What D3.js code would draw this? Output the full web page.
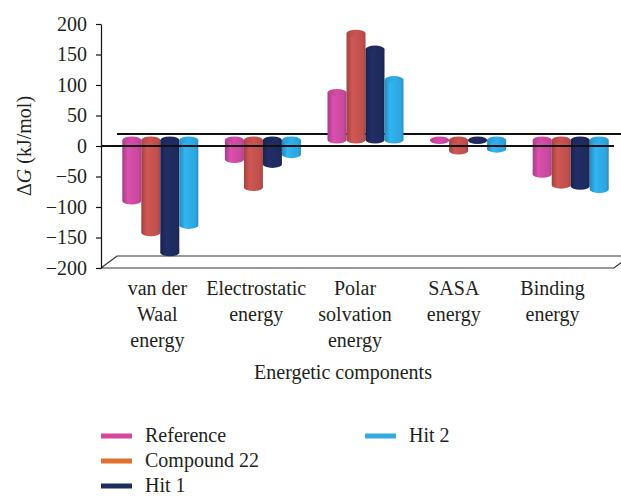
<!DOCTYPE html>
<html>
<head>
<meta charset="utf-8">
<script src="https://cdn.jsdelivr.net/npm/d3@7/dist/d3.min.js"></script>
<style>
  html, body { margin: 0; padding: 0; background: #fff; }
  svg { display: block; }
  text { font-family: "Liberation Serif", "DejaVu Serif", serif; fill: #231f20; }
</style>
</head>
<body>
<svg id="chart" width="621" height="496"></svg>
<script>
// Energy components (kJ/mol) per compound
const categories = [
  ["van der", "Waal", "energy"],
  ["Electrostatic", "energy"],
  ["Polar", "solvation", "energy"],
  ["SASA", "energy"],
  ["Binding", "energy"]
];
const series = ["Reference", "Compound 22", "Hit 1", "Hit 2"];
const refValues   = [-100, -32,  78,  -1, -56];
const c22Values   = [-152, -78, 175, -18, -74];
const hit1Values  = [-185, -40, 149,  -1, -76];
const hit2Values  = [-140, -24,  99, -15, -81];
const yTicks = [-200, -150, -100, -50, 0, 50, 100, 150, 200];

const seriesValues = [refValues, c22Values, hit1Values, hit2Values];
const barColors = ["#c9499f", "#c0504d", "#1f2a5e", "#2ea6df"];
const legendColors = ["#d4479c", "#e07030", "#1f2d5e", "#33a9e0"];

const svg = d3.select("#chart");
const defs = svg.append("defs");

// 3D depth of the plot box
const depthX = 16, depthY = -12;
const catKeys = categories.map(c => c.join(" "));

const y = d3.scaleLinear().domain([-200, 200]).range([268, 24]);
const x = d3.scaleBand().domain(catKeys).range([101, 614]);
const xLabel = d3.scaleBand().domain(catKeys).range([108, 602]);
const xSeries = d3.scaleBand().domain(series).range([0, x.bandwidth()])
  .paddingOuter(0.7).paddingInner(0);

// Floor of the 3D box
const floorY = y(-200);
const x0 = x.range()[0], x1 = x.range()[1];
svg.append("path")
  .attr("d", `M${x0},${floorY}L${x1},${floorY}L${x1 + depthX},${floorY + depthY}` +
             `M${x0},${floorY}L${x0 + depthX},${floorY + depthY}L${x1 + depthX},${floorY + depthY}`)
  .attr("fill", "none").attr("stroke", "#333").attr("stroke-width", 1.2);

// Back edge of the zero plane (behind the bars)
const zeroY = y(0);
svg.append("line")
  .attr("x1", x0 + depthX).attr("x2", x1 + depthX + 10)
  .attr("y1", zeroY + depthY).attr("y2", zeroY + depthY)
  .attr("stroke", "#111").attr("stroke-width", 2);

// Shading gradients for the cylinders
function shade(id, color, cap) {
  const c = d3.color(color);
  const g = defs.append("linearGradient").attr("id", id)
    .attr("x1", "0%").attr("x2", "100%").attr("y1", "0%").attr("y2", "0%");
  const stops = cap
    ? [[0, c.darker(0.25)], [0.5, c.brighter(0.15)], [1, c.darker(0.2)]]
    : [[0, c.darker(0.55)], [0.3, c.brighter(0.25)], [0.55, c.brighter(0.1)], [0.85, c], [1, c.darker(0.45)]];
  stops.forEach(([o, col]) => g.append("stop").attr("offset", o).attr("stop-color", col.formatHex()));
}
barColors.forEach((col, i) => { shade("body" + i, col, false); shade("cap" + i, col, true); });

// Cylinders
const ry = 3.5;
const bars = svg.append("g");
categories.forEach((cat, ci) => {
  series.forEach((s, si) => {
    const v = seriesValues[si][ci];
    const rx = xSeries.bandwidth() / 2;
    const cx = x(catKeys[ci]) + depthX / 2 + xSeries(s) + rx;
    const yBase = y(0) + depthY / 2;
    const yVal = y(v) + depthY / 2;
    const top = Math.min(yBase, yVal), bottom = Math.max(yBase, yVal);
    const g = bars.append("g");
    g.append("rect")
      .attr("x", cx - rx).attr("y", top).attr("width", rx * 2).attr("height", bottom - top)
      .attr("fill", `url(#body${si})`);
    g.append("ellipse")
      .attr("cx", cx).attr("cy", bottom).attr("rx", rx).attr("ry", ry)
      .attr("fill", `url(#body${si})`);
    g.append("ellipse")
      .attr("cx", cx).attr("cy", top).attr("rx", rx).attr("ry", ry)
      .attr("fill", `url(#cap${si})`);
  });
});

// Front edge of the zero plane (over the bars)
svg.append("line")
  .attr("x1", x0).attr("x2", x1)
  .attr("y1", zeroY).attr("y2", zeroY)
  .attr("stroke", "#111").attr("stroke-width", 2);

// Value axis
const yAxis = svg.append("g")
  .attr("transform", `translate(${x0},0)`)
  .call(d3.axisLeft(y).tickValues(yTicks).tickSize(5).tickSizeOuter(0).tickPadding(9));
yAxis.select(".domain").attr("stroke", "#111").attr("stroke-width", 1.2);
yAxis.selectAll(".tick line").attr("stroke", "#111").attr("stroke-width", 1.2);
yAxis.selectAll(".tick text")
  .attr("font-size", 20)
  .style("font-family", "'Liberation Serif', serif")
  .attr("fill", "#231f20");

// Value axis title
const yTitle = svg.append("text")
  .attr("transform", `translate(31,${y(0)}) rotate(-90)`)
  .attr("text-anchor", "middle")
  .attr("font-size", 20);
yTitle.append("tspan").text("Δ");
yTitle.append("tspan").attr("font-style", "italic").text("G");
yTitle.append("tspan").text(" (kJ/mol)");

// Category labels
categories.forEach((lines, ci) => {
  const t = svg.append("text")
    .attr("text-anchor", "middle")
    .attr("font-size", 20);
  lines.forEach((ln, li) => {
    t.append("tspan")
      .attr("x", xLabel(catKeys[ci]) + xLabel.bandwidth() / 2)
      .attr("y", 295 + li * 26)
      .text(ln);
  });
});

svg.append("text")
  .attr("x", 343).attr("y", 379)
  .attr("text-anchor", "middle")
  .attr("font-size", 20)
  .text("Energetic components");

// Legend
const legendPos = [[101, 436], [101, 461], [101, 486], [365, 436]];
series.forEach((s, i) => {
  const [lx, ly] = legendPos[i];
  svg.append("rect")
    .attr("x", lx).attr("y", ly - 2.5).attr("width", 31).attr("height", 5)
    .attr("fill", legendColors[i]);
  svg.append("text")
    .attr("x", lx + 44).attr("y", ly + 6)
    .attr("font-size", 20)
    .text(s);
});
</script>
</body>
</html>
